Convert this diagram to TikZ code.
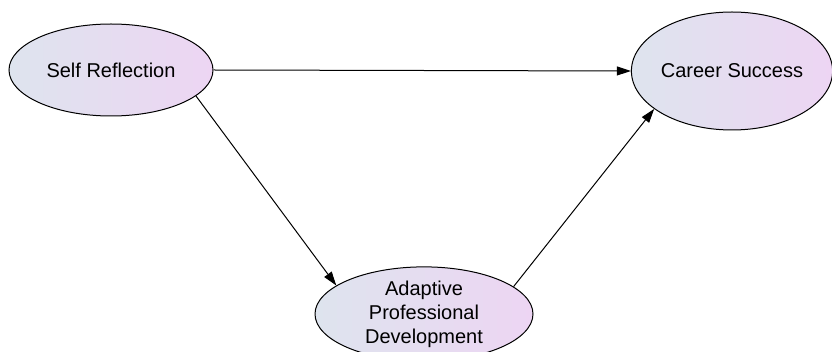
\documentclass[tikz,border=0pt]{standalone}
\usepackage{fontspec}
\setmainfont{Liberation Sans}
\usetikzlibrary{shapes.geometric,arrows.meta}
\definecolor{fillL}{RGB}{222,228,238}
\definecolor{fillR}{RGB}{237,213,243}
\begin{document}
\begin{tikzpicture}[x=1pt,y=-1pt,
  latent/.style={ellipse,draw=black,line width=1pt,inner sep=0pt,
    left color=fillL,right color=fillR,align=center,
    font=\fontsize{20}{24}\selectfont},
  conn/.style={line width=1pt,-{Triangle[length=14pt,width=9pt]}}]
\useasboundingbox (0,0) rectangle (832,352);
\node[latent,minimum width=204pt,minimum height=92pt] (sr) at (111,70) {Self Reflection};
\node[latent,minimum width=196pt,minimum height=118pt] (cs) at (732,71) {Career Success};
\node[latent,minimum width=218pt,minimum height=92pt] (ap) at (424,314) {Adaptive\\Professional\\Development};
\draw[conn] (sr.east) -- (cs.west);
\draw[conn] (sr.-17) -- (ap.162);
\draw[conn] (ap.17) -- (cs.206);
\end{tikzpicture}
\end{document}
